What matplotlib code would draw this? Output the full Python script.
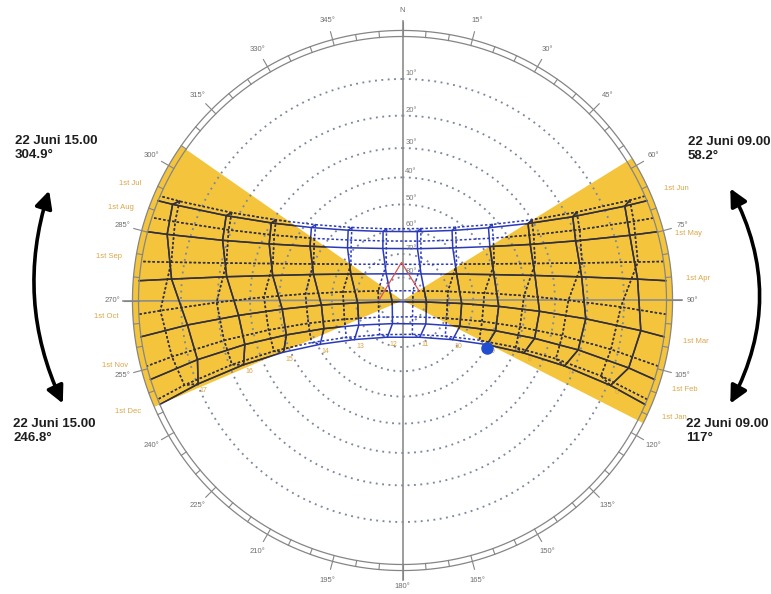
import numpy as np
import matplotlib.pyplot as plt
from matplotlib.patches import FancyArrowPatch, Polygon

plt.rcParams["font.family"] = ["Liberation Sans", "DejaVu Sans"]

# Sun position on the 1st of each month at clock hours 06..17
# (azimuth clockwise from north, altitude above horizon, both in degrees)
months = ["Jan", "Feb", "Mar", "Apr", "May", "Jun",
          "Jul", "Aug", "Sep", "Oct", "Nov", "Dec"]
hours = [6, 7, 8, 9, 10, 11, 12, 13, 14, 15, 16, 17]

sun_az = [
    [112.2, 112.0, 113.4, 117.6, 128.0, 154.8, 202.4, 230.9, 242.0, 246.5, 248.0, 247.8],
    [106.6, 105.7, 106.0, 108.0, 114.2, 135.1, 203.4, 240.6, 250.3, 253.5, 254.4, 253.9],
    [97.2, 95.7, 94.5, 93.5, 92.9, 93.7, 262.7, 267.1, 266.8, 265.9, 264.8, 263.5],
    [84.8, 82.5, 79.3, 74.2, 64.0, 34.9, 328.6, 297.1, 286.3, 280.9, 277.7, 275.3],
    [74.0, 71.0, 66.3, 58.3, 43.7, 16.1, 339.3, 313.8, 300.4, 293.0, 288.5, 285.7],
    [67.0, 63.8, 58.5, 49.8, 35.3, 12.1, 344.3, 322.3, 308.7, 300.6, 295.7, 292.7],
    [66.2, 63.1, 58.0, 49.7, 35.9, 14.3, 347.5, 325.3, 311.1, 302.5, 297.2, 294.0],
    [71.1, 68.2, 63.4, 55.5, 41.6, 17.2, 344.8, 319.7, 305.2, 297.0, 292.1, 289.1],
    [80.7, 78.2, 74.4, 68.2, 56.1, 27.1, 335.9, 305.1, 292.3, 285.9, 282.0, 279.4],
    [91.7, 89.9, 87.7, 84.8, 78.7, 46.8, 291.6, 278.2, 273.9, 271.4, 269.4, 267.6],
    [103.2, 102.4, 102.7, 104.7, 111.9, 148.3, 234.8, 252.1, 256.4, 257.6, 257.4, 256.3],
    [110.8, 110.8, 112.5, 117.3, 129.8, 163.8, 213.8, 236.7, 245.2, 248.5, 249.4, 248.8],
]
sun_alt = [
    [9.2, 23.0, 36.8, 50.3, 62.9, 72.5, 72.9, 63.6, 51.1, 37.7, 24.0, 10.2],
    [6.4, 20.7, 35.0, 49.3, 63.2, 75.7, 79.1, 68.5, 54.9, 40.7, 26.4, 12.1],
    [5.4, 20.2, 35.0, 49.9, 64.7, 79.6, 85.5, 70.7, 55.8, 40.9, 26.1, 11.3],
    [6.4, 21.2, 35.9, 50.4, 64.3, 76.0, 76.5, 65.2, 51.3, 36.8, 22.2, 7.4],
    [6.3, 20.5, 34.3, 47.5, 59.2, 66.9, 66.2, 57.8, 45.8, 32.5, 18.6, 4.4],
    [5.1, 18.6, 31.7, 43.8, 54.0, 60.1, 59.6, 52.8, 42.3, 30.0, 16.9, 3.3],
    [3.5, 17.0, 30.0, 42.0, 52.2, 58.6, 58.9, 52.8, 42.8, 30.8, 17.9, 4.5],
    [4.4, 18.3, 31.9, 44.7, 56.0, 63.5, 63.7, 56.6, 45.6, 32.8, 19.2, 5.3],
    [5.8, 20.4, 34.9, 49.0, 62.3, 72.5, 72.9, 63.1, 49.9, 35.9, 21.4, 6.8],
    [10.8, 25.7, 40.5, 55.4, 70.1, 83.8, 78.7, 64.3, 49.5, 34.6, 19.7, 4.9],
    [11.9, 26.4, 41.0, 55.4, 69.6, 81.7, 77.5, 64.0, 49.7, 35.1, 20.6, 6.1],
    [12.4, 26.3, 40.2, 53.7, 66.2, 74.8, 72.3, 61.4, 48.4, 34.7, 20.8, 6.9],
]
rise_az = [113.2, 107.4, 97.9, 85.7, 74.9, 67.8, 66.7, 71.8, 81.5, 93.0, 104.4, 112.0]
set_az = [246.8, 252.6, 262.1, 274.3, 285.1, 292.2, 293.3, 288.3, 278.5, 267.0, 255.6, 248.0]

alt_rings = [10, 20, 30, 40, 50, 60, 70, 80]

# bearings of 22 June at 09.00 / 15.00 bounding the shaded sectors
sector_east = (58.2, 117.0)
sector_west = (246.8, 304.9)
time_east = "22 Juni 09.00"
time_west = "22 Juni 15.00"

# small markers near the zenith
mark_az = [272.5, 358.5, 62.0]
mark_alt = [80.0, 73.6, 81.7]
sun_now = (119.2, 49.9)

YELLOW = "#F4C53C"
BLUE = "#2a3ab8"
DARK = "#3a3122"
ORANGE = "#dba648"
GREY = "#858585"


def zen_fwd(z):
    return np.tan(np.radians(np.clip(z, 0, 170)) / 2)


def zen_inv(t):
    return 2 * np.degrees(np.arctan(t))


th = np.radians

W, H = 771, 594
fig = plt.figure(figsize=(W / 100, H / 100), dpi=100)
cx, cy, r_hor = 402.5, 300.5, 264.0
R_MAX = 99.0
half = r_hor * zen_fwd(R_MAX)
ax = fig.add_axes([(cx - half) / W, (H - cy - half) / H, 2 * half / W, 2 * half / H],
                  projection="polar")
ax.set_theta_zero_location("N")
ax.set_theta_direction(-1)
ax.set_rscale("function", functions=(zen_fwd, zen_inv))
ax.set_rlim(0, R_MAX)
ax.axis("off")

full = np.linspace(0, 2 * np.pi, 721)

# shaded sectors, apex at the zenith, out to the compass ring
wedges = []
for lo, hi in (sector_east, sector_west):
    arc = th(np.linspace(lo, hi, 120))
    verts = [(0.0, 0.0)] + [(t, 91.3) for t in arc]
    sector = Polygon(verts, closed=True, facecolor=YELLOW, edgecolor="none",
                     transform=ax.transData, zorder=1)
    ax.add_patch(sector)
    wedges.append(sector)

# altitude circles
for a in alt_rings:
    ax.plot(full, np.full_like(full, 90 - a), color="#7d889e", lw=1.35,
            ls=(0, (1, 2.4)), zorder=2)
    ax.annotate(f"{a}°", (0, 90 - a), xytext=(2, 1.5), textcoords="offset points",
                fontsize=5.5, color="#7a7a7a", ha="left", va="bottom", zorder=6)

# N-S and E-W axes
for d in (0, 90, 180, 270):
    ax.plot([th(d), th(d)], [0, 93.2], color="#8c8c8c", lw=1.2, zorder=2)

# compass ring with 5 degree ticks
for rr in (90, 91.3):
    ax.plot(full, np.full_like(full, rr), color=GREY, lw=0.9, zorder=5)
for d in range(0, 360, 5):
    top = 93.0 if d % 15 == 0 else 91.3
    ax.plot([th(d), th(d)], [90, top], color=GREY, lw=0.8, zorder=5)
for d in range(0, 360, 15):
    ax.text(th(d), 94.6 if d == 180 else 95.4, "N" if d == 0 else f"{d}°",
            ha="center", va="center", fontsize=5.5, color="#6e6e6e")


def draw_paths(color, clip=None, z=3):
    lines = []
    for i in range(12):
        az = np.array([rise_az[i]] + sun_az[i] + [set_az[i]])
        alt = np.array([0] + sun_alt[i] + [0])
        ls = "-" if i < 6 else (0, (1.6, 1.4))
        lines += ax.plot(th(az), 90 - alt, color=color, lw=1.1, ls=ls, zorder=z)
    for j in range(12):
        col_az = np.array([sun_az[i][j] for i in range(12)] + [sun_az[0][j]])
        col_alt = np.array([sun_alt[i][j] for i in range(12)] + [sun_alt[0][j]])
        for sl, ls in ((slice(0, 7), "-"), (slice(6, 13), (0, (1.6, 1.4)))):
            lines += ax.plot(th(col_az[sl]), 90 - col_alt[sl], color=color, lw=1.1,
                             ls=ls, zorder=z)
    if clip is not None:
        for ln in lines:
            ln.set_clip_path(clip)


# day paths and hour loops: blue in the open sky, dark over the sectors
draw_paths(BLUE)
for w in wedges:
    draw_paths(DARK, clip=w, z=4)

# hour numbers below the January path
for j, h in enumerate(hours):
    ax.annotate(str(h), (th(sun_az[0][j]), 90 - sun_alt[0][j]), xytext=(4, -5),
                textcoords="offset points", fontsize=5, color=ORANGE,
                ha="center", va="center", zorder=6)

# month labels at sunrise (Jan-Jun) and sunset (Jul-Dec)
nudge = {"May": -7, "Nov": 6}
for i, m in enumerate(months):
    az = rise_az[i] if i < 6 else set_az[i]
    ax.annotate(f"1st {m}", (th(az), 96.6), xytext=(0, nudge.get(m, 0)),
                textcoords="offset points", fontsize=5.5, color=ORANGE,
                ha="center", va="center")

ax.plot(th(np.array(mark_az)), 90 - np.array(mark_alt), color="#d9534f",
        lw=0.9, zorder=5)
ax.plot(th(sun_now[0]), 90 - sun_now[1], "o", ms=8, color="#1f4fd0", zorder=6)

# callouts
callouts = [
    (15, 141, time_west, sector_west[1]),
    (13, 424, time_west, sector_west[0]),
    (688, 142, time_east, sector_east[0]),
    (686, 424, time_east, sector_east[1]),
]
for x, y, t, v in callouts:
    fig.text(x / W, 1 - y / H, t, fontsize=9.5, fontweight="bold", color="#1e1e1e",
             va="center", ha="left")
    fig.text(x / W, 1 - (y + 14) / H, f"{v:g}°", fontsize=9.5, fontweight="bold",
             color="#1e1e1e", va="center", ha="left")

for (x1, y1), (x2, y2), rad in (((50, 188), (64, 406), 0.2),
                                ((729, 186), (729, 406), -0.27)):
    arr = FancyArrowPatch((x1 / W, 1 - y1 / H), (x2 / W, 1 - y2 / H),
                          transform=fig.transFigure, arrowstyle="<|-|>",
                          connectionstyle=f"arc3,rad={rad}", mutation_scale=26,
                          lw=2.6, color="black")
    fig.add_artist(arr)

fig.savefig("out.png", dpi=100, facecolor="white")
